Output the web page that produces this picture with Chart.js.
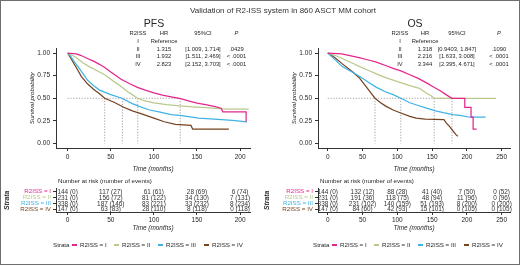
<!DOCTYPE html>
<html><head><meta charset="utf-8">
<script src="https://cdn.jsdelivr.net/npm/chart.js@4.4.1/dist/chart.umd.min.js"></script>
<style>
body{margin:0;background:#fff;}
#wrap{position:absolute;left:0;top:0;width:520px;height:265px;overflow:hidden;font-family:"Liberation Sans",Arial,Helvetica,sans-serif;color:#262626;background:#fff;}
canvas{position:absolute;}
.t{position:absolute;white-space:nowrap;line-height:1;}
#frame{position:absolute;left:0;top:0;width:518px;height:263px;border:1px solid #6e6e6e;}
.mk{position:absolute;width:5px;height:1.6px;}
</style></head><body>
<div id="wrap">
<canvas id="kmL" width="262" height="135" style="left:0;top:40px"></canvas>
<canvas id="kmR" width="260" height="135" style="left:260px;top:40px"></canvas>
<canvas id="rkL" width="262" height="50" style="left:0;top:183px"></canvas>
<canvas id="rkR" width="260" height="50" style="left:260px;top:183px"></canvas>
<div id="frame"></div>
</div>
<script>
// ---------------- DATA ----------------
const groupNames = ['R2ISS = I', 'R2ISS = II', 'R2ISS = III', 'R2ISS = IV'];
const groupColors = ['#E4268C', '#B9C98C', '#3FB3E6', '#774420'];
const yTicks = [0, 0.25, 0.5, 0.75, 1.0];
const pfsXTicks = [0, 50, 100, 150, 200];
const osXTicks = [0, 50, 100, 150, 200, 250];

// PFS curves (time in months, survival probability)
const pfsT_I   = [0,10,15,23,30,37,43,50,62,72,81,90,100,110,120,131,140,150,160,170,178,180,207,207];
const pfsS_I   = [1,0.99,0.975,0.94,0.91,0.875,0.84,0.79,0.71,0.66,0.62,0.59,0.56,0.535,0.515,0.495,0.47,0.445,0.43,0.41,0.39,0.35,0.35,0.24];
const pfsT_II  = [0,5,10,18,25,37,43,50,56,62,70,75,81,90,100,115,130,145,160,175,185,210];
const pfsS_II  = [1,0.975,0.95,0.89,0.85,0.79,0.76,0.71,0.67,0.63,0.57,0.54,0.50,0.47,0.45,0.43,0.415,0.405,0.395,0.385,0.38,0.38];
const pfsT_III = [0,3,8,12,18,23,30,37,50,63,75,83,95,106,120,130,152,170,191,208];
const pfsS_III = [1,0.97,0.90,0.85,0.77,0.70,0.64,0.59,0.54,0.50,0.44,0.41,0.37,0.35,0.32,0.31,0.28,0.27,0.255,0.24];
const pfsT_IV  = [0,5,10,16,23,30,37,43,55,65,75,85,100,112,125,143,145,187];
const pfsS_IV  = [1,0.92,0.84,0.74,0.66,0.60,0.55,0.50,0.45,0.40,0.36,0.33,0.28,0.24,0.21,0.20,0.16,0.16];
const pfsMedians = [130.6, 81.3, 63.5, 43];

// OS curves
const osT_I   = [0,20,30,45,60,70,82,94,106,118,130,142,152,161,170,178.6,197,197,206,206,209,209,214];
const osS_I   = [1,0.99,0.975,0.95,0.92,0.90,0.865,0.83,0.80,0.76,0.72,0.67,0.625,0.585,0.54,0.50,0.50,0.40,0.40,0.29,0.29,0.16,0.16];
const osT_II  = [0,10,21,35,46,58,70,82,94,106,118,132,142,148,153,242];
const osS_II  = [1,0.975,0.94,0.89,0.85,0.81,0.77,0.73,0.70,0.67,0.64,0.61,0.555,0.53,0.50,0.50];
const osT_III = [0,10,21,35,46,58,70,82,94,105,118,130,142,155,166,180,190,205,227];
const osS_III = [1,0.93,0.85,0.79,0.74,0.68,0.62,0.575,0.54,0.50,0.45,0.42,0.39,0.36,0.34,0.32,0.31,0.29,0.29];
const osT_IV  = [0,10,21,36,46,56,62,68,76,84,94,104,118,127,140,167,170,175,180,184,187];
const osS_IV  = [1,0.95,0.88,0.79,0.72,0.62,0.56,0.50,0.45,0.41,0.37,0.34,0.30,0.28,0.27,0.265,0.23,0.19,0.14,0.10,0.08];
const osMedians = [178.6, 153, 105, 68];

// Hazard ratio tables
const hrHeader = ['R2ISS', 'HR', '95%CI', 'P'];
const hrGroups = ['I', 'II', 'III', 'IV'];
const pfsHR = ['Reference', '1.315', '1.932', '2.823'];
const pfsCI = ['', '[1.009, 1.714]', '[1.511, 2.469]', '[2.152, 3.703]'];
const pfsP  = ['', '.0429', '< .0001', '< .0001'];
const osHR  = ['Reference', '1.318', '2.216', '3.344'];
const osCI  = ['', '[0.9403, 1.847]', '[1.633, 3.008]', '[2.395, 4.671]'];
const osP   = ['', '.1090', '< .0001', '< .0001'];

// Number at risk (number of events)
const pfsRiskN = [[144,117,61,28,6],[231,156,81,34,7],[338,187,83,33,8],[147,63,28,8,0]];
const pfsRiskE = [[0,27,61,69,74],[0,72,122,130,131],[0,146,221,232,234],[0,83,110,118,118]];
const osRiskN  = [[144,132,88,41,7,0],[231,191,118,48,11,0],[338,231,140,51,8,0],[147,84,42,15,0,0]];
const osRiskE  = [[0,12,28,40,50,52],[0,36,75,94,96,96],[0,102,159,193,200,200],[0,60,93,101,105,105]];

// ---------------- HELPERS ----------------
const FONT = '"Liberation Sans", Arial, Helvetica, sans-serif';
Chart.defaults.font.family = FONT;
Chart.defaults.color = '#262626';
const wrap = document.getElementById('wrap');
function txt(s, x, y, size, o = {}) {
  const d = document.createElement('div');
  d.className = 't';
  d.textContent = s;
  d.style.fontSize = size + 'px';
  d.style.left = x + 'px';
  d.style.top = y + 'px';
  const ax = o.align === 'left' ? '0' : (o.align === 'right' ? '-100%' : '-50%');
  d.style.transform = `translate(${ax},-50%)`;
  if (o.italic) d.style.fontStyle = 'italic';
  if (o.bold) d.style.fontWeight = 'bold';
  if (o.color) d.style.color = o.color;
  wrap.appendChild(d);
  return d;
}
function pts(T, S) { return T.map((t, i) => ({x: t, y: S[i]})); }

const axisCommon = {
  grid: {display: true, drawOnChartArea: false, drawTicks: true, tickLength: 3, color: '#333', tickColor: '#333', tickWidth: 1},
  border: {display: true, color: '#333', width: 1}
};

function kmChart(id, curves, medians, xMin, xMax, xTicks, yW, padRight) {
  const ds = curves.map((c, i) => ({
    data: c, borderColor: groupColors[i], borderWidth: 1.25, pointRadius: 0, fill: false, order: 0
  }));
  const mMax = Math.max(...medians);
  const dot = {borderColor: '#8a8a8a', borderWidth: 0.8, borderDash: [1.2, 1.6], pointRadius: 0, fill: false, order: 5};
  ds.push(Object.assign({data: [{x: 0, y: 0.5}, {x: mMax, y: 0.5}]}, dot));
  medians.forEach(m => ds.push(Object.assign({data: [{x: m, y: 0.5}, {x: m, y: 0}]}, dot)));
  new Chart(document.getElementById(id), {
    type: 'line',
    data: {datasets: ds},
    options: {
      responsive: false, animation: false, devicePixelRatio: 1,
      layout: {padding: {left: 0, top: 8.5, right: padRight, bottom: 0}},
      plugins: {legend: {display: false}, tooltip: {enabled: false}},
      elements: {line: {tension: 0}},
      scales: {
        x: Object.assign({}, axisCommon, {
          type: 'linear', min: xMin, max: xMax,
          afterBuildTicks: s => { s.ticks = xTicks.map(v => ({value: v})); },
          afterFit: s => { s.height = 27; },
          ticks: {font: {size: 6.5}, padding: 2, maxRotation: 0, color: '#262626'},
          title: {display: true, text: 'Time (months)', font: {size: 6.4, style: 'italic'}, color: '#262626', padding: {top: 0, bottom: 2}}
        }),
        y: Object.assign({}, axisCommon, {
          type: 'linear', min: -0.05, max: 1.05,
          afterBuildTicks: s => { s.ticks = yTicks.map(v => ({value: v})); },
          afterFit: s => { s.width = yW; },
          ticks: {font: {size: 6.5}, padding: 3, color: '#262626', callback: v => v.toFixed(2)},
          title: {display: true, text: 'Survival probability', font: {size: 6.2, style: 'italic'}, color: '#262626', padding: {top: yW - 27, bottom: 0}}
        })
      }
    }
  });
}

function riskChart(id, times, N, E, xMin, xMax, yW, padRight) {
  const ds = N.map((row, i) => ({
    data: times.map(t => ({x: t, y: groupNames[i]})), pointRadius: 0, showLine: false
  }));
  const labelPlugin = {
    id: 'riskText',
    afterDatasetsDraw(chart) {
      const ctx = chart.ctx, xs = chart.scales.x, ys = chart.scales.y;
      ctx.save();
      ctx.font = '6.4px ' + FONT;
      ctx.fillStyle = '#333';
      ctx.textAlign = 'center';
      ctx.textBaseline = 'middle';
      N.forEach((row, i) => row.forEach((n, j) => {
        ctx.fillText(n + ' (' + E[i][j] + ')', xs.getPixelForValue(times[j]), ys.getPixelForValue(i) + 0.5);
      }));
      ctx.restore();
    }
  };
  new Chart(document.getElementById(id), {
    type: 'scatter',
    data: {datasets: ds},
    plugins: [labelPlugin],
    options: {
      responsive: false, animation: false, devicePixelRatio: 1,
      layout: {padding: {left: 0, top: 4, right: padRight, bottom: 0}},
      plugins: {legend: {display: false}, tooltip: {enabled: false}},
      scales: {
        x: Object.assign({}, axisCommon, {
          type: 'linear', min: xMin, max: xMax,
          afterBuildTicks: s => { s.ticks = times.map(v => ({value: v})); },
          afterFit: s => { s.height = 21; },
          ticks: {font: {size: 6.5}, padding: 1, maxRotation: 0, color: '#262626'},
          title: {display: true, text: 'Time (months)', font: {size: 6.4, style: 'italic'}, color: '#262626', padding: {top: 0, bottom: 1}}
        }),
        y: Object.assign({}, axisCommon, {
          type: 'category', labels: groupNames, offset: true,
          afterFit: s => { s.width = yW; },
          ticks: {font: {size: 6.2}, padding: 2, autoSkip: false, color: c => groupColors[c.index]},
          title: {display: true, text: 'Strata', font: {size: 6.8, style: 'italic', weight: 'bold'}, color: '#262626', padding: {top: 3, bottom: 0}}
        })
      }
    }
  });
}

// ---------------- CHARTS ----------------
kmChart('kmL', [pts(pfsT_I, pfsS_I), pts(pfsT_II, pfsS_II), pts(pfsT_III, pfsS_III), pts(pfsT_IV, pfsS_IV)],
        pfsMedians, -13.5, 211.5, pfsXTicks, 56, 12);
kmChart('kmR', [pts(osT_I, osS_I), pts(osT_II, osS_II), pts(osT_III, osS_III), pts(osT_IV, osS_IV)],
        osMedians, -14, 262, osXTicks, 58, 10);
riskChart('rkL', pfsXTicks, pfsRiskN, pfsRiskE, -13.5, 211.5, 56, 12);
riskChart('rkR', osXTicks, osRiskN, osRiskE, -14, 262, 58, 10);

// ---------------- TEXT ----------------
txt('Validation of R2-ISS system in 860 ASCT MM cohort', 283, 11, 8, {color: '#333'});
txt('PFS', 154, 23, 10.5);
txt('OS', 415, 23, 10.5);

function hrTable(cols, HR, CI, P) {
  const rowsY = [34, 42, 49.7, 57.3, 65];
  const fs = 5.8;
  txt(hrHeader[0], cols[0], rowsY[0], fs);
  txt(hrHeader[1], cols[1], rowsY[0], fs);
  txt(hrHeader[2], cols[2], rowsY[0], fs);
  txt(hrHeader[3], cols[3], rowsY[0], fs, {italic: true});
  hrGroups.forEach((g, i) => {
    const y = rowsY[i + 1];
    txt(g, cols[0], y, fs);
    txt(HR[i], cols[1], y, fs);
    if (CI[i]) txt(CI[i], cols[2], y, fs);
    if (P[i]) txt(P[i], cols[3], y, fs);
  });
}
hrTable([138, 164, 203, 236.5], pfsHR, pfsCI, pfsP);
hrTable([400, 425, 457, 499], osHR, osCI, osP);

txt('Number at risk (number of events)', 58, 181, 6.2, {align: 'left'});
txt('Number at risk (number of events)', 320, 181, 6.2, {align: 'left'});

function legend(x0) {
  const y = 245;
  txt('Strata', x0, y, 6.2, {align: 'left'});
  const offs = [19, 61, 105, 151];
  groupNames.forEach((g, i) => {
    const m = document.createElement('div');
    m.className = 'mk';
    m.style.left = (x0 + offs[i]) + 'px';
    m.style.top = (y - 0.8) + 'px';
    m.style.background = groupColors[i];
    wrap.appendChild(m);
    txt(g, x0 + offs[i] + 8, y, 6.2, {align: 'left'});
  });
}
legend(53);
legend(313);
</script>
</body></html>
